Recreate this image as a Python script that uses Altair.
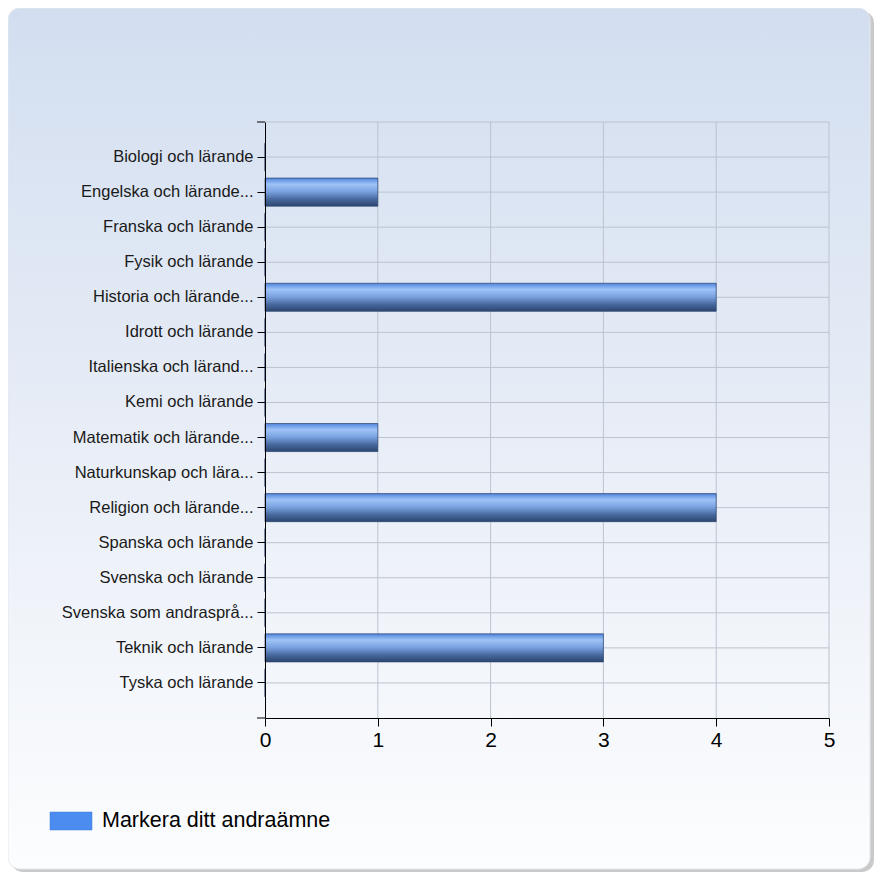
import altair as alt
import pandas as pd

categories = [
    "Biologi och lärande",
    "Engelska och lärande...",
    "Franska och lärande",
    "Fysik och lärande",
    "Historia och lärande...",
    "Idrott och lärande",
    "Italienska och lärand...",
    "Kemi och lärande",
    "Matematik och lärande...",
    "Naturkunskap och lära...",
    "Religion och lärande...",
    "Spanska och lärande",
    "Svenska och lärande",
    "Svenska som andrasprå...",
    "Teknik och lärande",
    "Tyska och lärande",
]
values = [0, 1, 0, 0, 4, 0, 0, 0, 1, 0, 4, 0, 0, 0, 3, 0]
series_name = "Markera ditt andraämne"
x_ticks = [0, 1, 2, 3, 4, 5]

W, H = 564, 596
PL, PT = 257, 114
FONT = "Liberation Sans"

df = pd.DataFrame({"cat": categories, "value": values})
one = pd.DataFrame({"series": [series_name]})
ticks_df = pd.DataFrame({"t": x_ticks[1:]})

x_scale = alt.Scale(domain=[0, 5], nice=False, zero=True)
y_scale = alt.Scale(paddingInner=0.2, paddingOuter=0.6)

x_axis = alt.Axis(values=x_ticks, format="d", title=None, grid=False, zindex=1,
                  tickSize=8, tickColor="black", domainColor="black",
                  labelFontSize=21, labelFont=FONT, labelColor="black",
                  labelPadding=3, labelFlush=False)
y_axis = alt.Axis(title=None, grid=False, zindex=1, tickSize=8, tickColor="black",
                  domainColor="black", labelFontSize=16.5, labelFont=FONT,
                  labelColor="#1a1a1a", labelPadding=4, labelLimit=300)

shadow = alt.Chart(one).mark_rect(color="#9e9e9e", opacity=0.55, cornerRadius=12).encode(
    x=alt.value(-PL + 3), x2=alt.value(609), y=alt.value(-PT + 3), y2=alt.value(750)
)
card = alt.Chart(one).mark_rect(
    cornerRadius=12,
    color=alt.Gradient(
        gradient="linear", x1=0, x2=0, y1=0, y2=1,
        stops=[alt.GradientStop(color="#d2def0", offset=0),
               alt.GradientStop(color="#e6ecf6", offset=0.45),
               alt.GradientStop(color="#fcfdfe", offset=1)],
    ),
    stroke="#e4e8ee", strokeWidth=1,
).encode(x=alt.value(-PL), x2=alt.value(605), y=alt.value(-PT), y2=alt.value(747))

hgrid = alt.Chart(df).mark_rule(color="#bcc3cf", strokeWidth=1).encode(
    y=alt.Y("cat:N", sort=categories, scale=y_scale, axis=y_axis),
    x=alt.value(0), x2=alt.value(W),
)
vgrid = alt.Chart(ticks_df).mark_rule(color="#bcc3cf", strokeWidth=1).encode(
    x=alt.X("t:Q", scale=x_scale, axis=x_axis),
    y=alt.value(0), y2=alt.value(H),
)
topline = alt.Chart(one).mark_rule(color="#bcc3cf", strokeWidth=1).encode(
    x=alt.value(0), x2=alt.value(W), y=alt.value(0)
)

bars = alt.Chart(df).mark_bar(
    color=alt.Gradient(
        gradient="linear", x1=0, x2=0, y1=0, y2=1,
        stops=[alt.GradientStop(color="#5186dc", offset=0),
               alt.GradientStop(color="#9ec3f7", offset=0.22),
               alt.GradientStop(color="#7aa2e0", offset=0.48),
               alt.GradientStop(color="#48699e", offset=0.75),
               alt.GradientStop(color="#2b456f", offset=1)],
    ),
    stroke="#2a4470", strokeWidth=0.7,
).encode(
    x=alt.X("value:Q", scale=x_scale, axis=x_axis),
    y=alt.Y("cat:N", sort=categories, scale=y_scale, axis=y_axis),
)

tick_top = alt.Chart(one).mark_rule(color="black").encode(
    x=alt.value(-8), x2=alt.value(0), y=alt.value(0)
)
tick_bottom = alt.Chart(one).mark_rule(color="black").encode(
    x=alt.value(-8), x2=alt.value(0), y=alt.value(H)
)

legend_rect = alt.Chart(one).mark_rect(color="#4b8cf0", stroke="#3f7ad6", strokeWidth=0.5).encode(
    x=alt.value(-215), x2=alt.value(-173), y=alt.value(690), y2=alt.value(708)
)
legend_text = alt.Chart(one).mark_text(
    align="left", baseline="middle", fontSize=21.5, font=FONT, color="black"
).encode(text="series:N", x=alt.value(-163), y=alt.value(699))

chart = alt.layer(
    shadow, card, hgrid, vgrid, topline, bars, tick_top, tick_bottom, legend_rect, legend_text
).properties(
    width=W, height=H,
    autosize=alt.AutoSizeParams(type="none"),
    padding={"left": PL, "top": PT, "right": 866 - PL - W, "bottom": 866 - PT - H},
    background="white",
).configure_view(stroke=None)

chart.save("out.html", embed_options={"renderer": "svg", "actions": False})
